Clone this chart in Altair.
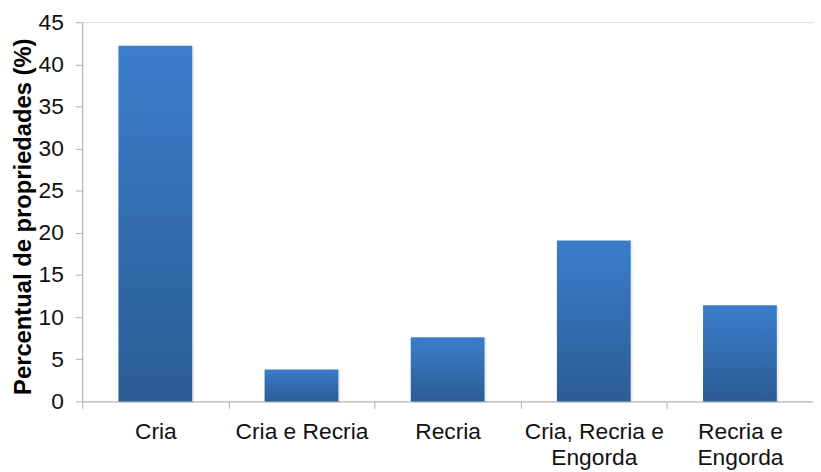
import altair as alt
import pandas as pd

categories = ["Cria", "Cria e Recria", "Recria", "Cria, Recria e Engorda", "Recria e Engorda"]
values = [42.2, 3.8, 7.6, 19.1, 11.4]

df = pd.DataFrame({"cat": categories, "val": values})

label_expr = ("datum.label == 'Cria, Recria e Engorda' ? ['Cria, Recria e', 'Engorda'] : "
              "datum.label == 'Recria e Engorda' ? ['Recria e', 'Engorda'] : datum.label")

grad = alt.Gradient(
    gradient="linear",
    stops=[alt.GradientStop(color="#3b7dcb", offset=0),
           alt.GradientStop(color="#2c5c95", offset=1)],
    x1=0, x2=0, y1=0, y2=1,
)

xenc = alt.X("cat:N", sort=categories, title=None,
             scale=alt.Scale(paddingInner=0, paddingOuter=0),
             axis=alt.Axis(labelAngle=0, labelExpr=label_expr, labelFont="Liberation Sans",
                           labelFontSize=23, labelColor="#111111", labelPadding=12,
                           labelLineHeight=27, labelBaseline="top", labelAlign="center",
                           tickBand="extent", tickSize=7, tickColor="#b0b0b0",
                           domainColor="#b0b0b0", labelLimit=300))

shadow = alt.Chart(df).mark_bar(color="#000000", opacity=0.08, xOffset=2, yOffset=1,
                                width=alt.RelativeBandSize(0.505)).encode(
    x=xenc,
    y=alt.Y("val:Q"),
)

bars = alt.Chart(df).mark_bar(color=grad, width=alt.RelativeBandSize(0.505)).encode(
    x=xenc,
    y=alt.Y("val:Q", title="Percentual de propriedades (%)",
            scale=alt.Scale(domain=[0, 45], nice=False),
            axis=alt.Axis(values=list(range(0, 50, 5)), grid=False, labelFont="Liberation Sans",
                          labelFontSize=23, labelColor="#111111", labelPadding=12,
                          tickSize=7, tickColor="#b0b0b0", domainColor="#b0b0b0",
                          titleFont="Liberation Sans", titleFontSize=24, titleFontWeight="bold",
                          titleColor="#000000", titlePadding=3, titleY=196)),
)

chart = alt.layer(shadow, bars).properties(
    width=738, height=383,
    autosize=alt.AutoSizeParams(type="none"),
    padding={"left": 75, "top": 12, "right": 0, "bottom": 70},
).configure_view(stroke=None).configure(background="white")

chart.save("out.html", embed_options={"renderer": "svg", "actions": False})
